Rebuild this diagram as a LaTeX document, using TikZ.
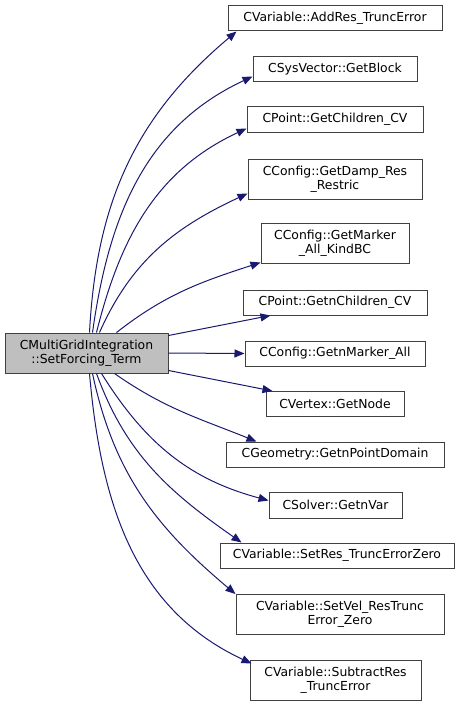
\documentclass[tikz,border=0pt]{standalone}
\usepackage{fontspec}
\setmainfont{DejaVu Sans}
\usetikzlibrary{arrows.meta,calc}
\definecolor{edgec}{HTML}{191970}
\definecolor{boxline}{HTML}{404040}
\definecolor{srcfill}{HTML}{BFBFBF}
\begin{document}
\begin{tikzpicture}[x=1pt,y=-1pt,
  box/.style={draw=boxline,line width=1pt,fill=white,inner sep=0pt,align=center,font=\fontsize{12.4}{14}\selectfont},
  src/.style={box,fill=srcfill},
  edge/.style={draw=edgec,line width=1pt,-{Triangle[length=10pt,width=8pt]}}]
\useasboundingbox (0,0) rectangle (460,706);
\node[src,minimum width=163pt,minimum height=40pt] (s) at (86.5,353) {CMultiGridIntegration\\::SetForcing\_Term};
\node[box,minimum width=214pt,minimum height=25pt] (t1) at (335,18.5) {CVariable::AddRes\_TruncError};
\node[box,minimum width=164pt,minimum height=25pt] (t2) at (335,69.5) {CSysVector::GetBlock};
\node[box,minimum width=176pt,minimum height=25pt] (t3) at (335,119.5) {CPoint::GetChildren\_CV};
\node[box,minimum width=174pt,minimum height=40pt] (t4) at (335,179) {CConfig::GetDamp\_Res\\\_Restric};
\node[box,minimum width=148pt,minimum height=40pt] (t5) at (335,243) {CConfig::GetMarker\\\_All\_KindBC};
\node[box,minimum width=184pt,minimum height=25pt] (t6) at (335,302.5) {CPoint::GetnChildren\_CV};
\node[box,minimum width=180pt,minimum height=25pt] (t7) at (335,353.5) {CConfig::GetnMarker\_All};
\node[box,minimum width=138pt,minimum height=25pt] (t8) at (335,404) {CVertex::GetNode};
\node[box,minimum width=218pt,minimum height=25pt] (t9) at (335,454.5) {CGeometry::GetnPointDomain};
\node[box,minimum width=133pt,minimum height=26pt] (t10) at (335.5,505) {CSolver::GetnVar};
\node[box,minimum width=234pt,minimum height=25pt] (t11) at (337,555.5) {CVariable::SetRes\_TruncErrorZero};
\node[box,minimum width=208pt,minimum height=40pt] (t12) at (340,614.5) {CVariable::SetVel\_ResTrunc\\Error\_Zero};
\node[box,minimum width=171pt,minimum height=40pt] (t13) at (335.5,680) {CVariable::SubtractRes\\\_TruncError};
% edges from top of source
\draw[edge] ($(s.north west)+(85pt,0pt)$) to[out=87,in=220,looseness=1.0] ($(t1.south west)+(9pt,0pt)$);
\draw[edge] ($(s.north west)+(88pt,0pt)$) to[out=82,in=205,looseness=1.0] ($(t2.south west)+(0pt,6pt)$);
\draw[edge] ($(s.north west)+(92pt,0pt)$) to[out=76,in=205,looseness=1.0] ($(t3.south west)+(0pt,4pt)$);
\draw[edge] ($(s.north west)+(95pt,0pt)$) to[out=66,in=205,looseness=1.0] ($(t4.south west)+(0pt,6pt)$);
\draw[edge] ($(s.north west)+(112pt,0pt)$) to[out=38,in=198,looseness=1.0] ($(t5.south west)+(0pt,1pt)$);
\draw[edge] ($(s.north east)+(0pt,-3pt)$) -- ($(t6.south west)+(28pt,0pt)$);
\draw[edge] (s.east) -- (t7.west);
\draw[edge] ($(s.south east)+(0pt,3pt)$) -- ($(t8.north west)+(7pt,0pt)$);
% edges from bottom of source
\draw[edge] ($(s.south west)+(110pt,0pt)$) to[out=-35,in=158,looseness=1.0] ($(t9.north west)+(31pt,0pt)$);
\draw[edge] ($(s.south west)+(97pt,0pt)$) to[out=-58,in=165,looseness=1.0] ($(t10.north west)+(0pt,-9pt)$);
\draw[edge] ($(s.south west)+(92pt,0pt)$) to[out=-70,in=145,looseness=1.0] ($(t11.north west)+(22pt,0pt)$);
\draw[edge] ($(s.south west)+(88pt,0pt)$) to[out=-78,in=140,looseness=1.0] (t12.north west);
\draw[edge] ($(s.south west)+(85pt,0pt)$) to[out=-85,in=155,looseness=1.0] ($(t13.north west)+(2pt,-4pt)$);
\end{tikzpicture}
\end{document}
